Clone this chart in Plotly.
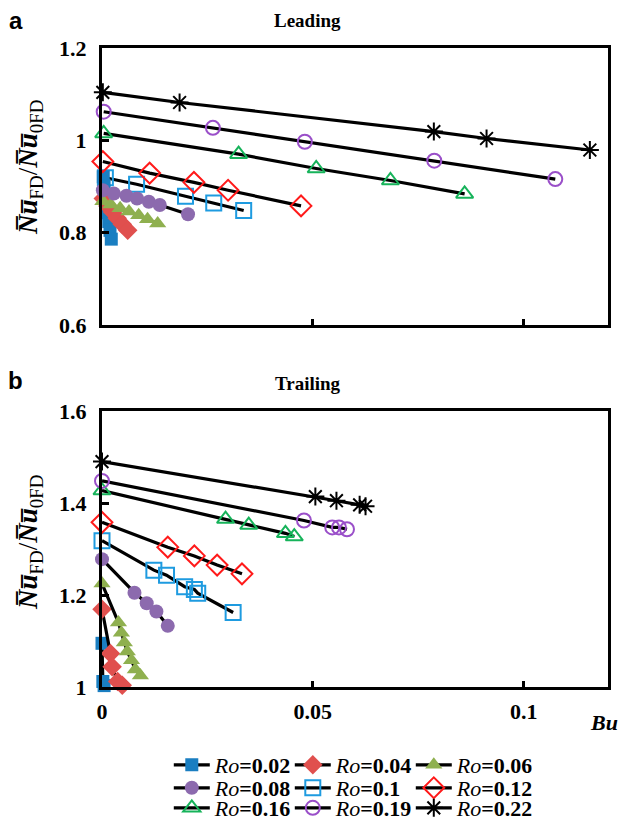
import plotly.graph_objects as go

ro_values = ["0.02", "0.04", "0.06", "0.08", "0.1", "0.12", "0.16", "0.19", "0.22"]

# ---- Panel a: Leading ----
lead_bu_002 = [0.0003, 0.0005, 0.0008, 0.0010, 0.0013, 0.0016, 0.0019, 0.0022]
lead_nu_002 = [0.921, 0.902, 0.882, 0.862, 0.843, 0.824, 0.805, 0.786]
lead_bu_004 = [0.0003, 0.0014, 0.0025, 0.0036, 0.0048, 0.0061]
lead_nu_004 = [0.874, 0.858, 0.845, 0.831, 0.818, 0.805]
lead_bu_006 = [0.0002, 0.0021, 0.0043, 0.0064, 0.0087, 0.0108, 0.0132]
lead_nu_006 = [0.868, 0.861, 0.853, 0.846, 0.838, 0.829, 0.820]
lead_bu_008 = [0.0002, 0.0028, 0.0058, 0.0083, 0.0111, 0.0137, 0.0204]
lead_nu_008 = [0.892, 0.885, 0.880, 0.874, 0.867, 0.860, 0.840]
lead_bu_010 = [0.0008, 0.0082, 0.0198, 0.0265, 0.0336]
lead_nu_010 = [0.919, 0.905, 0.879, 0.864, 0.848]
lead_bu_012 = [0.0002, 0.0113, 0.0218, 0.0299, 0.0472]
lead_nu_012 = [0.954, 0.929, 0.909, 0.892, 0.858]
lead_bu_016 = [0.0004, 0.0324, 0.0508, 0.0684, 0.0860]
lead_nu_016 = [1.015, 0.970, 0.939, 0.913, 0.884]
lead_bu_019 = [0.0004, 0.0263, 0.0481, 0.0788, 0.1075]
lead_nu_019 = [1.062, 1.027, 0.997, 0.956, 0.916]
lead_bu_022 = [0.0002, 0.0184, 0.0787, 0.0912, 0.1157]
lead_nu_022 = [1.104, 1.082, 1.019, 1.004, 0.979]

# ---- Panel b: Trailing ----
trail_bu_002 = [0.0, 0.0002, 0.0005]
trail_nu_002 = [1.095, 1.012, 1.003]
trail_bu_004 = [0.0, 0.0020, 0.0024, 0.0037, 0.0048]
trail_nu_004 = [1.169, 1.073, 1.044, 1.012, 1.004]
trail_bu_006 = [0.0, 0.0039, 0.0046, 0.0053, 0.0060, 0.0070, 0.0079, 0.0091]
trail_nu_006 = [1.225, 1.140, 1.118, 1.097, 1.077, 1.058, 1.038, 1.025]
trail_bu_008 = [0.0, 0.0077, 0.0106, 0.0129, 0.0156]
trail_nu_008 = [1.278, 1.205, 1.182, 1.164, 1.133]
trail_bu_010 = [0.0, 0.0123, 0.0153, 0.0196, 0.0219, 0.0227, 0.0311]
trail_nu_010 = [1.318, 1.254, 1.243, 1.218, 1.212, 1.204, 1.162]
trail_bu_012 = [0.0, 0.0156, 0.0219, 0.0273, 0.0332]
trail_nu_012 = [1.358, 1.304, 1.285, 1.265, 1.246]
trail_bu_016 = [0.0, 0.0293, 0.0348, 0.0435, 0.0456]
trail_nu_016 = [1.427, 1.365, 1.352, 1.334, 1.327]
trail_bu_019 = [0.0, 0.0479, 0.0546, 0.0562, 0.0581]
trail_nu_019 = [1.448, 1.362, 1.347, 1.347, 1.343]
trail_bu_022 = [0.0, 0.0506, 0.0556, 0.0611, 0.0625]
trail_nu_022 = [1.490, 1.414, 1.405, 1.396, 1.393]

lead_bu = [lead_bu_002, lead_bu_004, lead_bu_006, lead_bu_008, lead_bu_010,
           lead_bu_012, lead_bu_016, lead_bu_019, lead_bu_022]
lead_nu = [lead_nu_002, lead_nu_004, lead_nu_006, lead_nu_008, lead_nu_010,
           lead_nu_012, lead_nu_016, lead_nu_019, lead_nu_022]
trail_bu = [trail_bu_002, trail_bu_004, trail_bu_006, trail_bu_008, trail_bu_010,
            trail_bu_012, trail_bu_016, trail_bu_019, trail_bu_022]
trail_nu = [trail_nu_002, trail_nu_004, trail_nu_006, trail_nu_008, trail_nu_010,
            trail_nu_012, trail_nu_016, trail_nu_019, trail_nu_022]

y_ticks_a = [0.6, 0.8, 1.0, 1.2]
y_ticktext_a = ["0.6", "0.8", "1", "1.2"]
y_ticks_b = [1.0, 1.2, 1.4, 1.6]
y_ticktext_b = ["1", "1.2", "1.4", "1.6"]
x_ticks = [0, 0.05, 0.1]
x_ticktext = ["0", "0.05", "0.1"]

# ---- styles ----
styles = [
    dict(symbol="square", color="#1A7EC1", size=13, lw=0),
    dict(symbol="diamond", color="#E0504E", size=15, lw=0),
    dict(symbol="triangle-up", color="#8FB04F", size=15, lw=0),
    dict(symbol="circle", color="#8C6AAE", size=14, lw=0),
    dict(symbol="square-open", color="#1E9BE0", size=15, lw=2),
    dict(symbol="diamond-open", color="#FF1A1A", size=16, lw=2),
    dict(symbol="triangle-up-open", color="#16B35A", size=15, lw=2),
    dict(symbol="circle-open", color="#9A4FC9", size=14, lw=2),
    dict(symbol="asterisk-open", color="#000000", size=15, lw=2),
]
legend_ids = ["legend", "legend", "legend", "legend2", "legend2", "legend2",
              "legend3", "legend3", "legend3"]
draw_order = [4, 0, 1, 2, 3, 5, 6, 7, 8]

SERIF = "Liberation Serif"
fig = go.Figure()

for panel, (bus, nus, xa, ya, show) in enumerate([
        (lead_bu, lead_nu, "x", "y", False),
        (trail_bu, trail_nu, "x2", "y2", True)]):
    for i in draw_order:
        st = styles[i]
        fig.add_trace(go.Scatter(
            x=bus[i], y=nus[i], xaxis=xa, yaxis=ya,
            mode="lines+markers",
            name="<i>Ro</i><b>=" + ro_values[i] + "</b>",
            legend=legend_ids[i], legendrank=i + 1,
            showlegend=show, cliponaxis=False,
            line=dict(color="black", width=3.2),
            marker=dict(symbol=st["symbol"], size=st["size"], color=st["color"],
                        line=dict(width=st["lw"], color=st["color"])),
        ))

axis_common = dict(showline=True, linewidth=3, linecolor="black", mirror=True,
                   showgrid=False, zeroline=False, ticks="inside",
                   tickcolor="black", tickwidth=3)
tickfont = dict(family=SERIF, size=22, color="black", weight="bold")

leg_common = dict(orientation="h", entrywidth=70, entrywidthmode="pixels",
                  bgcolor="rgba(0,0,0,0)", x=0.132, xanchor="left", yanchor="top",
                  font=dict(family=SERIF, size=22, color="black"), itemwidth=36)

fig.update_layout(
    width=627, height=820,
    margin=dict(l=102, r=19, t=48, b=133, autoexpand=False),
    paper_bgcolor="white", plot_bgcolor="white",
    xaxis=dict(domain=[0, 1], range=[0, 0.12], tickvals=x_ticks, showticklabels=False,
               ticklen=6, anchor="y", **axis_common),
    yaxis=dict(domain=[0.5665, 1], range=[0.6, 1.2], tickvals=y_ticks_a,
               ticktext=y_ticktext_a, ticklen=7, tickfont=tickfont,
               ticklabelstandoff=8, anchor="x", **axis_common),
    xaxis2=dict(domain=[0, 1], range=[0, 0.12], tickvals=x_ticks, ticktext=x_ticktext,
                ticklen=6, tickfont=tickfont, ticklabelstandoff=3, anchor="y2",
                **axis_common),
    yaxis2=dict(domain=[0, 0.4319], range=[1.0, 1.6], tickvals=y_ticks_b,
                ticktext=y_ticktext_b, ticklen=7, tickfont=tickfont,
                ticklabelstandoff=8, anchor="x2", **axis_common),
    legend=dict(y=-0.0892, **leg_common),
    legend2=dict(y=-0.1252, **leg_common),
    legend3=dict(y=-0.1565, **leg_common),
)

ytitle = ("<b><i>N\u0305u\u0305</i></b><sub>FD</sub>/"
          "<b><i>N\u0305u\u0305</i></b><sub>0FD</sub>")
annots = [
    dict(text=ytitle, x=-0.1423, y=0.8138, textangle=-90,
         font=dict(family=SERIF, size=27, color="black")),
    dict(text=ytitle, x=-0.1423, y=0.2269, textangle=-90,
         font=dict(family=SERIF, size=27, color="black")),
    dict(text="<b>Leading</b>", x=0.407, y=1.0438,
         font=dict(family=SERIF, size=19, color="black")),
    dict(text="<b>Trailing</b>", x=0.407, y=0.4757,
         font=dict(family=SERIF, size=19, color="black")),
    dict(text="<b>a</b>", x=-0.17, y=1.0438,
         font=dict(family="Liberation Sans", size=24, color="black")),
    dict(text="<b>b</b>", x=-0.17, y=0.479,
         font=dict(family="Liberation Sans", size=24, color="black")),
    dict(text="<b><i>Bu</i></b>", x=0.992, y=-0.055,
         font=dict(family=SERIF, size=22, color="black")),
]
for a in annots:
    fig.add_annotation(xref="paper", yref="paper", showarrow=False,
                       xanchor="center", yanchor="middle", **a)

fig.write_html("out.html")
